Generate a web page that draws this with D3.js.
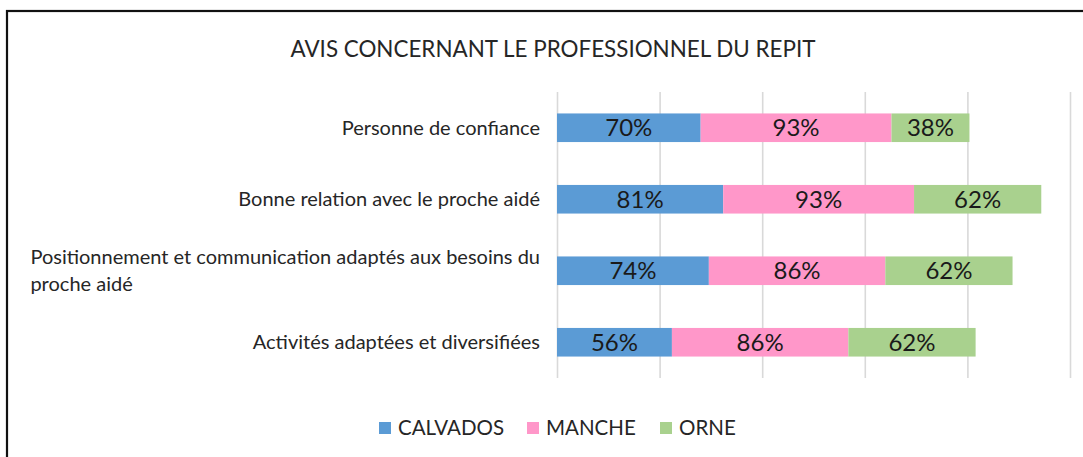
<!DOCTYPE html>
<html lang="fr">
<head>
<meta charset="UTF-8">
<title>Avis professionnel du répit</title>
<script src="https://d3js.org/d3.v7.min.js"></script>
<style>
  body { margin: 0; background: #fff; }
  svg { display: block; font-family: Lato, "Open Sans", sans-serif; }
  .grid line { stroke: #d9d9d9; stroke-width: 1.6px; }
  .cat { font-size: 20px; fill: #262626; }
  .val { font-size: 24px; fill: #1a1a1a; }
  .leg { font-size: 20.5px; fill: #262626; }
</style>
</head>
<body>
<svg id="chart" width="1083" height="457"></svg>
<script>
// data
let categories = [
    ["Personne de confiance"],
    ["Bonne relation avec le proche aidé"],
    ["Positionnement et communication adaptés aux besoins du", "proche aidé"],
    ["Activités adaptées et diversifiées"]
];
let series = ["CALVADOS", "MANCHE", "ORNE"];
let calvados = [70, 81, 74, 56];
let manche = [93, 93, 86, 86];
let orne = [38, 62, 62, 62];
let xTicks = [0, 50, 100, 150, 200, 250];
let colors = ["#5b9bd5", "#ff97c9", "#a9d18e"];

let svg = d3.select("#chart");

// frame (only top and left edges visible)
svg.append("rect")
    .attr("x", 7).attr("y", 11)
    .attr("width", 1200).attr("height", 600)
    .attr("fill", "none")
    .attr("stroke", "#111").attr("stroke-width", 2.2);

svg.append("text")
    .attr("x", 553).attr("y", 57)
    .attr("text-anchor", "middle")
    .attr("font-size", 24)
    .attr("fill", "#262626")
    .attr("textLength", 525)
    .attr("lengthAdjust", "spacingAndGlyphs")
    .text("AVIS CONCERNANT LE PROFESSIONNEL DU REPIT");

let rows = categories.map(function (c, i) {
    return {key: i, CALVADOS: calvados[i], MANCHE: manche[i], ORNE: orne[i]};
});

let x = d3.scaleLinear().domain([0, 250]).range([557, 1070]);
let y = d3.scaleBand()
    .domain(rows.map(d => d.key))
    .range([92, 378])
    .paddingInner(0.6)
    .paddingOuter(0.3);

// vertical gridlines
svg.append("g")
    .attr("class", "grid")
    .attr("transform", "translate(0,378)")
    .call(d3.axisBottom(x).tickValues(xTicks).tickSize(-286).tickFormat(""))
    .call(g => g.select(".domain").remove());

let stacked = d3.stack().keys(series)(rows);

let layers = svg.append("g").selectAll("g")
    .data(stacked)
    .join("g")
    .attr("fill", (d, i) => colors[i]);

layers.selectAll("rect")
    .data(d => d)
    .join("rect")
    .attr("x", d => x(d[0]))
    .attr("y", d => y(d.data.key))
    .attr("width", d => x(d[1]) - x(d[0]))
    .attr("height", y.bandwidth());

layers.selectAll("text")
    .data(d => d)
    .join("text")
    .attr("class", "val")
    .attr("x", d => (x(d[0]) + x(d[1])) / 2)
    .attr("y", d => y(d.data.key) + y.bandwidth() / 2)
    .attr("dy", "0.36em")
    .attr("text-anchor", "middle")
    .text(d => (d[1] - d[0]) + "%");

// category labels, wrapped ones left-aligned to their first line
let labelRight = 540;
categories.forEach(function (lines, i) {
    let cy = y(i) + y.bandwidth() / 2;
    let lineH = 27;
    let top = cy - (lines.length - 1) * lineH / 2;
    let first = svg.append("text")
        .attr("class", "cat")
        .attr("x", labelRight)
        .attr("y", top)
        .attr("dy", "0.36em")
        .attr("text-anchor", "end")
        .text(lines[0]);
    let startX = labelRight - first.node().getComputedTextLength();
    for (let k = 1; k < lines.length; k++) {
        svg.append("text")
            .attr("class", "cat")
            .attr("x", startX)
            .attr("y", top + k * lineH)
            .attr("dy", "0.36em")
            .text(lines[k]);
    }
});

// legend
let legendX = [379, 527, 660];
let legend = svg.append("g").selectAll("g")
    .data(series)
    .join("g")
    .attr("transform", (d, i) => "translate(" + legendX[i] + ",422)");
legend.append("rect")
    .attr("width", 12).attr("height", 12)
    .attr("fill", (d, i) => colors[i]);
legend.append("text")
    .attr("class", "leg")
    .attr("x", 19).attr("y", 6)
    .attr("dy", "0.36em")
    .text(d => d);
</script>
</body>
</html>
